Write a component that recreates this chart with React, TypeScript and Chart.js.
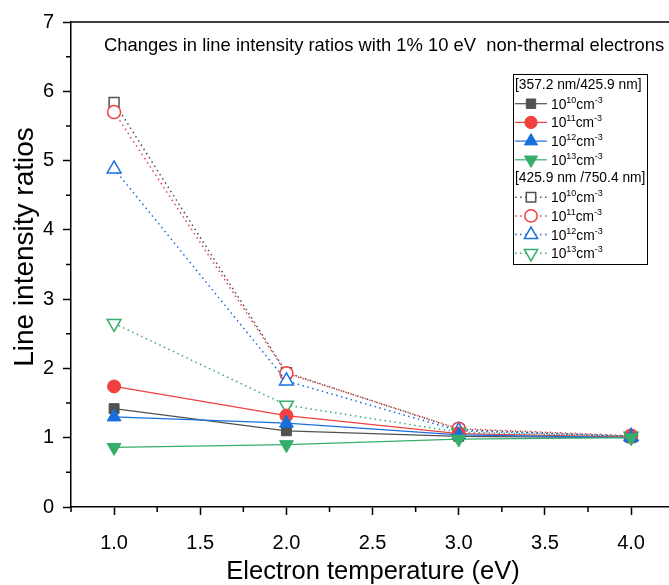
import React, { useEffect, useRef } from 'react';
import { Chart, registerables } from 'chart.js';

Chart.register(...registerables);

// ---------- data ----------
const temps = [1, 2, 3, 4];
// [357.2 nm / 425.9 nm] (solid lines, filled markers)
const ratioA_1e10 = [1.42, 1.10, 1.02, 1.00];
const ratioA_1e11 = [1.74, 1.32, 1.06, 1.01];
const ratioA_1e12 = [1.30, 1.21, 1.04, 1.00];
const ratioA_1e13 = [0.86, 0.90, 0.98, 1.00];
// [425.9 nm / 750.4 nm] (dotted lines, open markers)
const ratioB_1e10 = [5.84, 1.94, 1.12, 1.02];
const ratioB_1e11 = [5.70, 1.93, 1.13, 1.03];
const ratioB_1e12 = [4.88, 1.82, 1.10, 1.02];
const ratioB_1e13 = [2.65, 1.47, 1.08, 1.02];

const densityExps = ['10', '11', '12', '13'];
const groupTitles = ['[357.2 nm/425.9 nm]', '[425.9 nm /750.4 nm]'];
const xTicks = [1.0, 1.5, 2.0, 2.5, 3.0, 3.5, 4.0];
const xMinorTicks = [0.75, 1.25, 1.75, 2.25, 2.75, 3.25, 3.75];
const yTicks = [0, 1, 2, 3, 4, 5, 6, 7];
const yMinorTicks = [0.5, 1.5, 2.5, 3.5, 4.5, 5.5, 6.5];
const annotationText = 'Changes in line intensity ratios with 1% 10 eV  non-thermal electrons';
const xTitle = 'Electron temperature (eV)';
const yTitle = 'Line intensity ratios';

// ---------- styles ----------
const FONT = '"Liberation Sans", Arial, sans-serif';
const colors = ['#515151', '#F14040', '#1A6FDF', '#37AD6B'];
const shapes = ['rect', 'circle', 'triangle', 'triangle'];
const rotations = [0, 0, 0, 180];
const radii = [7, 6.5, 8, 8];
const DOT = [1.5, 3.5];

function drawMarker(ctx: CanvasRenderingContext2D, shape: string, x: number, y: number, r: number, rot: number, fill: string, stroke: string, lw: number) {
  ctx.save();
  ctx.beginPath();
  if (shape === 'circle') {
    ctx.arc(x, y, r, 0, Math.PI * 2);
  } else if (shape === 'rect') {
    const s = r * Math.SQRT1_2;
    ctx.rect(x - s, y - s, 2 * s, 2 * s);
  } else {
    let rad = (rot * Math.PI) / 180;
    for (let i = 0; i < 3; i++) {
      const px = x + Math.sin(rad) * r;
      const py = y - Math.cos(rad) * r;
      if (i === 0) ctx.moveTo(px, py);
      else ctx.lineTo(px, py);
      rad += (2 * Math.PI) / 3;
    }
    ctx.closePath();
  }
  ctx.setLineDash([]);
  ctx.fillStyle = fill;
  ctx.fill();
  ctx.lineWidth = lw;
  ctx.strokeStyle = stroke;
  ctx.stroke();
  ctx.restore();
}

const decorPlugin = {
  id: 'decor',
  afterDraw(chart: any) {
    const ctx: CanvasRenderingContext2D = chart.ctx;
    const xs = chart.scales.x;
    const ys = chart.scales.y;
    const area = chart.chartArea;
    ctx.save();
    ctx.strokeStyle = '#000';
    ctx.lineWidth = 1.5;
    // top frame line
    ctx.beginPath();
    ctx.moveTo(area.left, area.top);
    ctx.lineTo(chart.width, area.top);
    ctx.stroke();
    // minor ticks
    ctx.beginPath();
    xMinorTicks.forEach((v) => {
      const px = xs.getPixelForValue(v);
      ctx.moveTo(px, area.bottom);
      ctx.lineTo(px, area.bottom + 5);
    });
    yMinorTicks.forEach((v) => {
      const py = ys.getPixelForValue(v);
      ctx.moveTo(area.left, py);
      ctx.lineTo(area.left - 5, py);
    });
    ctx.stroke();

    // axis titles
    ctx.fillStyle = '#000';
    ctx.textAlign = 'center';
    ctx.textBaseline = 'middle';
    ctx.font = `25.5px ${FONT}`;
    ctx.fillText(xTitle, 373, 572);
    ctx.save();
    ctx.translate(25, 247);
    ctx.rotate(-Math.PI / 2);
    ctx.font = `28px ${FONT}`;
    ctx.fillText(yTitle, 0, 0);
    ctx.restore();

    // annotation
    ctx.textAlign = 'left';
    ctx.font = `18.4px ${FONT}`;
    ctx.fillText(annotationText, 104, 46);

    // legend
    const bx = 513, by = 74, bw = 134, bh = 190;
    ctx.fillStyle = '#fff';
    ctx.fillRect(bx, by, bw, bh);
    ctx.lineWidth = 1;
    ctx.strokeStyle = '#000';
    ctx.strokeRect(bx + 0.5, by + 0.5, bw, bh);
    const rowStep = 18.7;
    let rowY = 85;
    const fs = 13.8;
    for (let g = 0; g < 2; g++) {
      ctx.fillStyle = '#000';
      ctx.font = `${fs}px ${FONT}`;
      ctx.textBaseline = 'middle';
      ctx.fillText(groupTitles[g], 515, rowY);
      rowY += rowStep;
      for (let i = 0; i < 4; i++) {
        ctx.save();
        ctx.strokeStyle = colors[i];
        ctx.lineWidth = g === 0 ? 1.2 : 1.5;
        ctx.setLineDash(g === 0 ? [] : DOT);
        ctx.beginPath();
        ctx.moveTo(515, rowY);
        ctx.lineTo(547, rowY);
        ctx.stroke();
        ctx.restore();
        const r = radii[i] * 0.95;
        drawMarker(ctx, shapes[i], 531, rowY, r, rotations[i], g === 0 ? colors[i] : '#fff', colors[i], g === 0 ? 1 : 1.5);
        // text 10^xx cm^-3
        let tx = 551;
        const base = rowY + 5;
        ctx.fillStyle = '#000';
        ctx.textBaseline = 'alphabetic';
        ctx.font = `${fs}px ${FONT}`;
        ctx.fillText('10', tx, base);
        tx += ctx.measureText('10').width;
        ctx.font = `${fs * 0.65}px ${FONT}`;
        ctx.fillText(densityExps[i], tx, base - 6);
        tx += ctx.measureText(densityExps[i]).width;
        ctx.font = `${fs}px ${FONT}`;
        ctx.fillText('cm', tx, base);
        tx += ctx.measureText('cm').width;
        ctx.font = `${fs * 0.65}px ${FONT}`;
        ctx.fillText('-3', tx, base - 6);
        rowY += rowStep;
      }
    }
    ctx.restore();
  },
};

function makeDataset(label: string, data: number[], i: number, open: boolean, order: number) {
  return {
    label,
    data: temps.map((t, k) => ({ x: t, y: data[k] })),
    borderColor: colors[i],
    backgroundColor: open ? '#ffffff' : colors[i],
    borderWidth: open ? 1.5 : 1.2,
    borderDash: open ? DOT : [],
    pointStyle: shapes[i],
    rotation: rotations[i],
    pointRadius: radii[i],
    pointBorderWidth: open ? 1.5 : 1,
    pointBackgroundColor: open ? '#ffffff' : colors[i],
    pointBorderColor: colors[i],
    tension: 0,
    clip: false,
    order,
  };
}

export default function App() {
  const canvasRef = useRef<HTMLCanvasElement | null>(null);
  useEffect(() => {
    if (!canvasRef.current) return;
    const chart = new Chart(canvasRef.current, {
      type: 'line',
      data: {
        datasets: [
          makeDataset('A 1e10', ratioA_1e10, 0, false, 4),
          makeDataset('A 1e11', ratioA_1e11, 1, false, 3),
          makeDataset('A 1e12', ratioA_1e12, 2, false, 2),
          makeDataset('A 1e13', ratioA_1e13, 3, false, 1),
          makeDataset('B 1e10', ratioB_1e10, 0, true, 8),
          makeDataset('B 1e11', ratioB_1e11, 1, true, 7),
          makeDataset('B 1e12', ratioB_1e12, 2, true, 6),
          makeDataset('B 1e13', ratioB_1e13, 3, true, 5),
        ] as any,
      },
      options: {
        animation: false,
        responsive: false,
        maintainAspectRatio: false,
        layout: { autoPadding: false, padding: { top: 22, left: 0, right: 0, bottom: 0 } },
        plugins: { legend: { display: false }, tooltip: { enabled: false }, title: { display: false } },
        scales: {
          x: {
            type: 'linear',
            min: 0.75,
            max: 4.22,
            afterBuildTicks: (s: any) => { s.ticks = xTicks.map((v) => ({ value: v })); },
            afterFit: (s: any) => { s.height = 78; s.paddingLeft = 0; s.paddingRight = 0; },
            grid: { drawOnChartArea: false, drawTicks: true, tickLength: 8, tickWidth: 1.5, tickColor: '#000' },
            border: { display: true, color: '#000', width: 1.5 },
            ticks: {
              font: { family: FONT, size: 20 },
              color: '#000',
              padding: 16,
              maxRotation: 0,
              autoSkip: false,
              callback: (v: any) => Number(v).toFixed(1),
            },
          },
          y: {
            type: 'linear',
            min: 0,
            max: 7,
            afterBuildTicks: (s: any) => { s.ticks = yTicks.map((v) => ({ value: v })); },
            afterFit: (s: any) => { s.width = 71; s.paddingTop = 0; s.paddingBottom = 0; },
            grid: { drawOnChartArea: false, drawTicks: true, tickLength: 8, tickWidth: 1.5, tickColor: '#000' },
            border: { display: true, color: '#000', width: 1.5 },
            ticks: {
              font: { family: FONT, size: 20 },
              color: '#000',
              padding: 9,
              autoSkip: false,
              callback: (v: any) => String(v),
            },
          },
        },
      },
      plugins: [decorPlugin],
    } as any);
    return () => chart.destroy();
  }, []);
  return (
    <div style={{ position: 'absolute', left: 0, top: 0, width: 669, height: 585, background: '#fff' }}>
      <canvas ref={canvasRef} width={669} height={585} style={{ width: 669, height: 585, display: 'block' }} />
    </div>
  );
}
